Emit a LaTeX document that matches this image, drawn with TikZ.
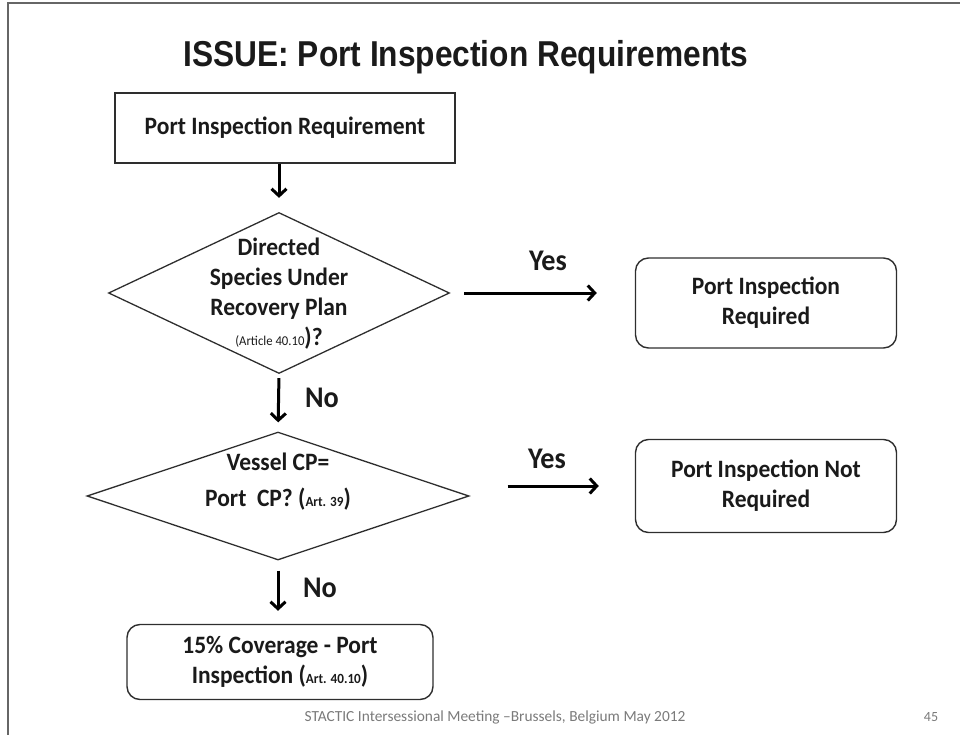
\documentclass[tikz,border=0pt]{standalone}
\usepackage{fontspec}
\setmainfont{Carlito}[FakeStretch=0.94]
\newfontfamily\titlefont[FakeStretch=0.88]{Liberation Sans}
\newfontfamily\footfont{Carlito}
\usetikzlibrary{arrows.meta,shapes.geometric}
\definecolor{ink}{HTML}{1A1A1A}
\definecolor{edge}{HTML}{2E2E2E}
\definecolor{framec}{HTML}{666666}
\definecolor{footc}{HTML}{7A7A7A}
\begin{document}
\begin{tikzpicture}[x=1pt,y=1pt,
  every node/.style={text=ink, font=\fontsize{25}{30}\selectfont\bfseries},
  plainbox/.style={draw=edge, line width=1.6pt, rectangle, minimum width=340pt, minimum height=70pt, inner sep=0pt},
  roundbox/.style={draw=edge, line width=1.4pt, rectangle, rounded corners=13pt, inner sep=0pt, align=center},
  decision/.style={draw=edge, line width=1.3pt, diamond, inner sep=0pt},
  dtext/.style={align=center, inner sep=0pt},
  arr/.style={draw=black, line width=3pt, -{Straight Barb[length=7pt,width=15pt]}},
  lbl/.style={font=\fontsize{30}{30}\selectfont\bfseries, inner sep=0pt}]
\useasboundingbox (0,0) rectangle (960,-735);
\draw[framec, line width=1.2pt] (8,-735) -- (8,-3) -- (960,-3);

\node[font=\titlefont\fontsize{36}{40}\selectfont\bfseries, anchor=base] (title) at (466,-67) {ISSUE: Port Inspection Requirements};

\node[plainbox] (req) at (285,-128) {Port Inspection Requirement};

\node[decision, minimum width=341pt, minimum height=161pt, aspect=2.12] (d1) at (279,-293) {};
\node[dtext] (d1t) at (279,-294) {Directed\\Species Under\\Recovery Plan\\{\fontsize{13.5}{14}\selectfont\mdseries(Article 40.10}{)?}};

\node[decision, minimum width=382pt, minimum height=128pt, aspect=2.98] (d2) at (278,-496) {};
\node[dtext] (d2t) at (278,-482) {Vessel CP=\\[6pt]Port\ \ CP? ({\fontsize{14}{14}\selectfont Art. 39})};

\node[roundbox, minimum width=261pt, minimum height=90pt] (pir) at (766,-303) {Port Inspection\\Required};
\node[roundbox, minimum width=261pt, minimum height=93pt] (pinr) at (766,-486) {Port Inspection Not\\Required};
\node[roundbox, minimum width=306pt, minimum height=75pt] (fin) at (280,-662) {15\% Coverage - Port\\Inspection ({\fontsize{14}{14}\selectfont Art. 40.10})};

\draw[arr, shorten >=14pt] (req.south -| d1.north) -- (d1.north);
\draw[arr, shorten <=4pt, shorten >=9pt] (d1.south) -- (d2.north);
\draw[arr, shorten <=10pt, shorten >=13pt] (d2.south) -- (d2.south |- fin.north);
\draw[arr, shorten <=14pt, shorten >=38pt] (d1.east) -- (d1.east -| pir.west);
\draw[arr, shorten <=38pt, shorten >=36pt] (d2.east |- pinr.west) -- (pinr.west);

\node[lbl] (yes1) at (548,-261) {Yes};
\node[lbl] (yes2) at (547,-459) {Yes};
\node[lbl] (no1) at (322,-398) {No};
\node[lbl] (no2) at (320,-588) {No};

\node[font=\footfont\fontsize{15.4}{15}\selectfont, text=footc] (foot) at (495,-717) {STACTIC Intersessional Meeting –Brussels, Belgium May 2012};
\node[font=\footfont\fontsize{14}{14}\selectfont, text=footc] (page) at (931,-717) {45};
\end{tikzpicture}
\end{document}
